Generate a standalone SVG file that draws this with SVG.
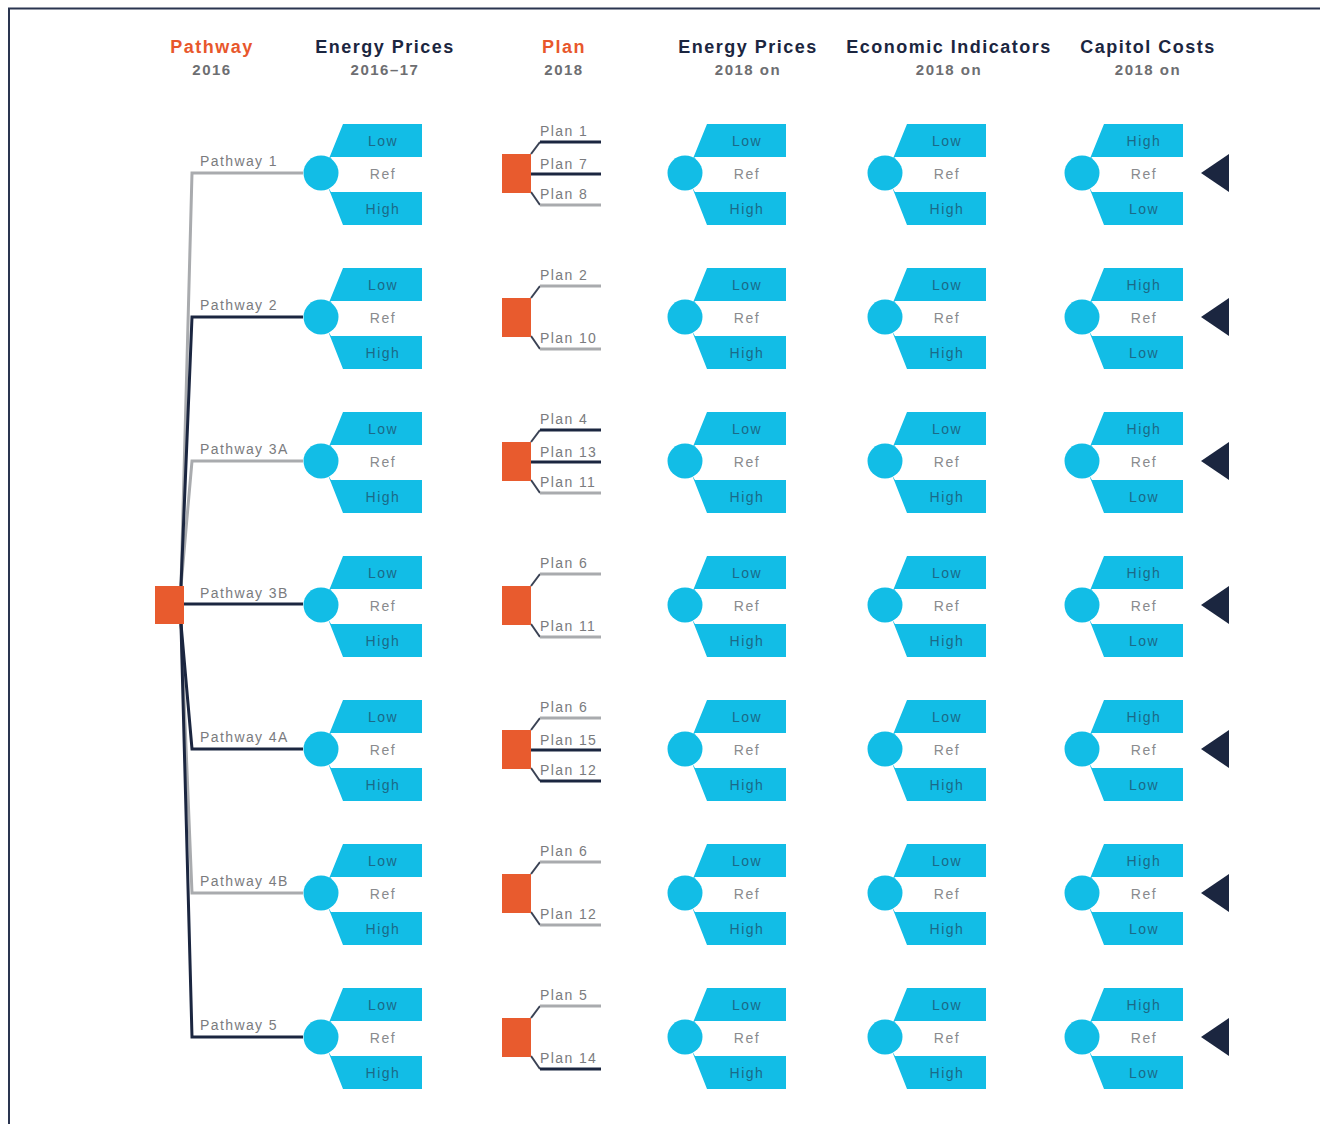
<svg xmlns="http://www.w3.org/2000/svg" xmlns:xlink="http://www.w3.org/1999/xlink" width="1320" height="1124" viewBox="0 0 1320 1124">
<style>
.title{font-family:"Liberation Sans",Arial,sans-serif;font-weight:bold;font-size:18px;letter-spacing:1.5px;text-anchor:middle;fill:#1b2640}
.title.or{fill:#e8572c}
.sub{font-family:"Liberation Sans",Arial,sans-serif;font-weight:bold;font-size:15px;letter-spacing:1.5px;text-anchor:middle;fill:#6d6e71}
.lbl{font-family:"Liberation Sans",Arial,sans-serif;font-size:14px;letter-spacing:1.4px;fill:#7a7b7e}
.opt{font-family:"Liberation Sans",Arial,sans-serif;font-size:14px;letter-spacing:1.5px;text-anchor:middle;dominant-baseline:central;fill:#1b6a88}
.ref{fill:#8a8b8e}
.fork{fill:#12bde6}
.sq{fill:#e85b2e}
.navy{stroke:#1b2640;stroke-width:3;fill:none}
.gray{stroke:#a9abae;stroke-width:3;fill:none}
.diag{stroke:#3a4254;stroke-width:2;fill:none}
.tri{fill:#1b2640}
</style>
<defs>
<g id="forkshape">
<circle cx="0" cy="0" r="17.5"/>
<polygon points="22,-49 101,-49 101,-16 10,-16 7,-12"/>
<polygon points="22,52 101,52 101,19 10,19 7,14"/>
</g>
</defs>
<rect width="1320" height="1124" fill="#ffffff"/>
<path d="M9 1124 V8.5 H1320" fill="none" stroke="#2a3550" stroke-width="2"/>

<g id="headers">
<text class="title or" x="212" y="53">Pathway</text><text class="sub" x="212" y="75">2016</text>
<text class="title" x="385" y="53">Energy Prices</text><text class="sub" x="385" y="75">2016–17</text>
<text class="title or" x="564" y="53">Plan</text><text class="sub" x="564" y="75">2018</text>
<text class="title" x="748" y="53">Energy Prices</text><text class="sub" x="748" y="75">2018 on</text>
<text class="title" x="949" y="53">Economic Indicators</text><text class="sub" x="949" y="75">2018 on</text>
<text class="title" x="1148" y="53">Capitol Costs</text><text class="sub" x="1148" y="75">2018 on</text>
</g>

<g id="connectors">
<!-- pathway fan -->
<polyline class="gray" points="181,586 192,173 303,173"/>
<polyline class="gray" points="181,586 192,461 303,461"/>
<polyline class="gray" points="181,624 192,893 303,893"/>
<polyline class="navy" points="181,586 192,317 303,317"/>
<polyline class="navy" points="181,624 192,749 303,749"/>
<polyline class="navy" points="181,624 192,1037 303,1037"/>
<line class="navy" x1="184" y1="604" x2="303" y2="604"/>
<!-- plan row 1 -->
<polyline class="diag" points="531,154 540,142"/><line class="navy" x1="540" y1="142" x2="601" y2="142"/>
<line class="navy" x1="531" y1="174" x2="601" y2="174"/>
<polyline class="diag" points="531,192 540,205"/><line class="gray" x1="540" y1="205" x2="601" y2="205"/>
<!-- plan row 2 -->
<polyline class="diag" points="531,298 540,286"/><line class="gray" x1="540" y1="286" x2="601" y2="286"/>
<polyline class="diag" points="531,336 540,349"/><line class="gray" x1="540" y1="349" x2="601" y2="349"/>
<!-- plan row 3 -->
<polyline class="diag" points="531,442 540,430"/><line class="navy" x1="540" y1="430" x2="601" y2="430"/>
<line class="navy" x1="531" y1="462" x2="601" y2="462"/>
<polyline class="diag" points="531,480 540,493"/><line class="gray" x1="540" y1="493" x2="601" y2="493"/>
<!-- plan row 4 -->
<polyline class="diag" points="531,586 540,574"/><line class="gray" x1="540" y1="574" x2="601" y2="574"/>
<polyline class="diag" points="531,624 540,637"/><line class="gray" x1="540" y1="637" x2="601" y2="637"/>
<!-- plan row 5 -->
<polyline class="diag" points="531,730 540,718"/><line class="gray" x1="540" y1="718" x2="601" y2="718"/>
<line class="navy" x1="531" y1="750" x2="601" y2="750"/>
<polyline class="diag" points="531,768 540,781"/><line class="navy" x1="540" y1="781" x2="601" y2="781"/>
<!-- plan row 6 -->
<polyline class="diag" points="531,874 540,862"/><line class="gray" x1="540" y1="862" x2="601" y2="862"/>
<polyline class="diag" points="531,912 540,925"/><line class="gray" x1="540" y1="925" x2="601" y2="925"/>
<!-- plan row 7 -->
<polyline class="diag" points="531,1018 540,1006"/><line class="gray" x1="540" y1="1006" x2="601" y2="1006"/>
<polyline class="diag" points="531,1056 540,1069"/><line class="navy" x1="540" y1="1069" x2="601" y2="1069"/>
</g>

<g id="pathway-root"><rect class="sq" x="155" y="586" width="29" height="38"/></g>

<g id="pathway-labels">
<text class="lbl" x="200" y="166">Pathway 1</text>
<text class="lbl" x="200" y="310">Pathway 2</text>
<text class="lbl" x="200" y="454">Pathway 3A</text>
<text class="lbl" x="200" y="598">Pathway 3B</text>
<text class="lbl" x="200" y="742">Pathway 4A</text>
<text class="lbl" x="200" y="886">Pathway 4B</text>
<text class="lbl" x="200" y="1030">Pathway 5</text>
</g>

<g id="plans">
<g id="plan-r1"><rect class="sq" x="502" y="154" width="29" height="39"/><text class="lbl" x="540" y="136">Plan 1</text><text class="lbl" x="540" y="169">Plan 7</text><text class="lbl" x="540" y="199">Plan 8</text></g>
<g id="plan-r2"><rect class="sq" x="502" y="298" width="29" height="39"/><text class="lbl" x="540" y="280">Plan 2</text><text class="lbl" x="540" y="343">Plan 10</text></g>
<g id="plan-r3"><rect class="sq" x="502" y="442" width="29" height="39"/><text class="lbl" x="540" y="424">Plan 4</text><text class="lbl" x="540" y="457">Plan 13</text><text class="lbl" x="540" y="487">Plan 11</text></g>
<g id="plan-r4"><rect class="sq" x="502" y="586" width="29" height="39"/><text class="lbl" x="540" y="568">Plan 6</text><text class="lbl" x="540" y="631">Plan 11</text></g>
<g id="plan-r5"><rect class="sq" x="502" y="730" width="29" height="39"/><text class="lbl" x="540" y="712">Plan 6</text><text class="lbl" x="540" y="745">Plan 15</text><text class="lbl" x="540" y="775">Plan 12</text></g>
<g id="plan-r6"><rect class="sq" x="502" y="874" width="29" height="39"/><text class="lbl" x="540" y="856">Plan 6</text><text class="lbl" x="540" y="919">Plan 12</text></g>
<g id="plan-r7"><rect class="sq" x="502" y="1018" width="29" height="39"/><text class="lbl" x="540" y="1000">Plan 5</text><text class="lbl" x="540" y="1063">Plan 14</text></g>
</g>

<g id="forks-energy2016">
<g id="ep16-r1"><use href="#forkshape" class="fork" x="321" y="173"/><text class="opt" x="383" y="140.5">Low</text><text class="opt ref" x="383" y="174">Ref</text><text class="opt" x="383" y="208.5">High</text></g>
<g id="ep16-r2"><use href="#forkshape" class="fork" x="321" y="317"/><text class="opt" x="383" y="284.5">Low</text><text class="opt ref" x="383" y="318">Ref</text><text class="opt" x="383" y="352.5">High</text></g>
<g id="ep16-r3"><use href="#forkshape" class="fork" x="321" y="461"/><text class="opt" x="383" y="428.5">Low</text><text class="opt ref" x="383" y="462">Ref</text><text class="opt" x="383" y="496.5">High</text></g>
<g id="ep16-r4"><use href="#forkshape" class="fork" x="321" y="605"/><text class="opt" x="383" y="572.5">Low</text><text class="opt ref" x="383" y="606">Ref</text><text class="opt" x="383" y="640.5">High</text></g>
<g id="ep16-r5"><use href="#forkshape" class="fork" x="321" y="749"/><text class="opt" x="383" y="716.5">Low</text><text class="opt ref" x="383" y="750">Ref</text><text class="opt" x="383" y="784.5">High</text></g>
<g id="ep16-r6"><use href="#forkshape" class="fork" x="321" y="893"/><text class="opt" x="383" y="860.5">Low</text><text class="opt ref" x="383" y="894">Ref</text><text class="opt" x="383" y="928.5">High</text></g>
<g id="ep16-r7"><use href="#forkshape" class="fork" x="321" y="1037"/><text class="opt" x="383" y="1004.5">Low</text><text class="opt ref" x="383" y="1038">Ref</text><text class="opt" x="383" y="1072.5">High</text></g>
</g>

<g id="forks-energy2018">
<g id="ep18-r1"><use href="#forkshape" class="fork" x="685" y="173"/><text class="opt" x="747" y="140.5">Low</text><text class="opt ref" x="747" y="174">Ref</text><text class="opt" x="747" y="208.5">High</text></g>
<g id="ep18-r2"><use href="#forkshape" class="fork" x="685" y="317"/><text class="opt" x="747" y="284.5">Low</text><text class="opt ref" x="747" y="318">Ref</text><text class="opt" x="747" y="352.5">High</text></g>
<g id="ep18-r3"><use href="#forkshape" class="fork" x="685" y="461"/><text class="opt" x="747" y="428.5">Low</text><text class="opt ref" x="747" y="462">Ref</text><text class="opt" x="747" y="496.5">High</text></g>
<g id="ep18-r4"><use href="#forkshape" class="fork" x="685" y="605"/><text class="opt" x="747" y="572.5">Low</text><text class="opt ref" x="747" y="606">Ref</text><text class="opt" x="747" y="640.5">High</text></g>
<g id="ep18-r5"><use href="#forkshape" class="fork" x="685" y="749"/><text class="opt" x="747" y="716.5">Low</text><text class="opt ref" x="747" y="750">Ref</text><text class="opt" x="747" y="784.5">High</text></g>
<g id="ep18-r6"><use href="#forkshape" class="fork" x="685" y="893"/><text class="opt" x="747" y="860.5">Low</text><text class="opt ref" x="747" y="894">Ref</text><text class="opt" x="747" y="928.5">High</text></g>
<g id="ep18-r7"><use href="#forkshape" class="fork" x="685" y="1037"/><text class="opt" x="747" y="1004.5">Low</text><text class="opt ref" x="747" y="1038">Ref</text><text class="opt" x="747" y="1072.5">High</text></g>
</g>

<g id="forks-economic">
<g id="ec-r1"><use href="#forkshape" class="fork" x="885" y="173"/><text class="opt" x="947" y="140.5">Low</text><text class="opt ref" x="947" y="174">Ref</text><text class="opt" x="947" y="208.5">High</text></g>
<g id="ec-r2"><use href="#forkshape" class="fork" x="885" y="317"/><text class="opt" x="947" y="284.5">Low</text><text class="opt ref" x="947" y="318">Ref</text><text class="opt" x="947" y="352.5">High</text></g>
<g id="ec-r3"><use href="#forkshape" class="fork" x="885" y="461"/><text class="opt" x="947" y="428.5">Low</text><text class="opt ref" x="947" y="462">Ref</text><text class="opt" x="947" y="496.5">High</text></g>
<g id="ec-r4"><use href="#forkshape" class="fork" x="885" y="605"/><text class="opt" x="947" y="572.5">Low</text><text class="opt ref" x="947" y="606">Ref</text><text class="opt" x="947" y="640.5">High</text></g>
<g id="ec-r5"><use href="#forkshape" class="fork" x="885" y="749"/><text class="opt" x="947" y="716.5">Low</text><text class="opt ref" x="947" y="750">Ref</text><text class="opt" x="947" y="784.5">High</text></g>
<g id="ec-r6"><use href="#forkshape" class="fork" x="885" y="893"/><text class="opt" x="947" y="860.5">Low</text><text class="opt ref" x="947" y="894">Ref</text><text class="opt" x="947" y="928.5">High</text></g>
<g id="ec-r7"><use href="#forkshape" class="fork" x="885" y="1037"/><text class="opt" x="947" y="1004.5">Low</text><text class="opt ref" x="947" y="1038">Ref</text><text class="opt" x="947" y="1072.5">High</text></g>
</g>

<g id="forks-capital">
<g id="cc-r1"><use href="#forkshape" class="fork" x="1082" y="173"/><text class="opt" x="1144" y="140.5">High</text><text class="opt ref" x="1144" y="174">Ref</text><text class="opt" x="1144" y="208.5">Low</text></g>
<g id="cc-r2"><use href="#forkshape" class="fork" x="1082" y="317"/><text class="opt" x="1144" y="284.5">High</text><text class="opt ref" x="1144" y="318">Ref</text><text class="opt" x="1144" y="352.5">Low</text></g>
<g id="cc-r3"><use href="#forkshape" class="fork" x="1082" y="461"/><text class="opt" x="1144" y="428.5">High</text><text class="opt ref" x="1144" y="462">Ref</text><text class="opt" x="1144" y="496.5">Low</text></g>
<g id="cc-r4"><use href="#forkshape" class="fork" x="1082" y="605"/><text class="opt" x="1144" y="572.5">High</text><text class="opt ref" x="1144" y="606">Ref</text><text class="opt" x="1144" y="640.5">Low</text></g>
<g id="cc-r5"><use href="#forkshape" class="fork" x="1082" y="749"/><text class="opt" x="1144" y="716.5">High</text><text class="opt ref" x="1144" y="750">Ref</text><text class="opt" x="1144" y="784.5">Low</text></g>
<g id="cc-r6"><use href="#forkshape" class="fork" x="1082" y="893"/><text class="opt" x="1144" y="860.5">High</text><text class="opt ref" x="1144" y="894">Ref</text><text class="opt" x="1144" y="928.5">Low</text></g>
<g id="cc-r7"><use href="#forkshape" class="fork" x="1082" y="1037"/><text class="opt" x="1144" y="1004.5">High</text><text class="opt ref" x="1144" y="1038">Ref</text><text class="opt" x="1144" y="1072.5">Low</text></g>
</g>

<g id="outcomes">
<polygon id="tri-r1" class="tri" points="1201,173 1229,154 1229,192"/>
<polygon id="tri-r2" class="tri" points="1201,317 1229,298 1229,336"/>
<polygon id="tri-r3" class="tri" points="1201,461 1229,442 1229,480"/>
<polygon id="tri-r4" class="tri" points="1201,605 1229,586 1229,624"/>
<polygon id="tri-r5" class="tri" points="1201,749 1229,730 1229,768"/>
<polygon id="tri-r6" class="tri" points="1201,893 1229,874 1229,912"/>
<polygon id="tri-r7" class="tri" points="1201,1037 1229,1018 1229,1056"/>
</g>
</svg>
